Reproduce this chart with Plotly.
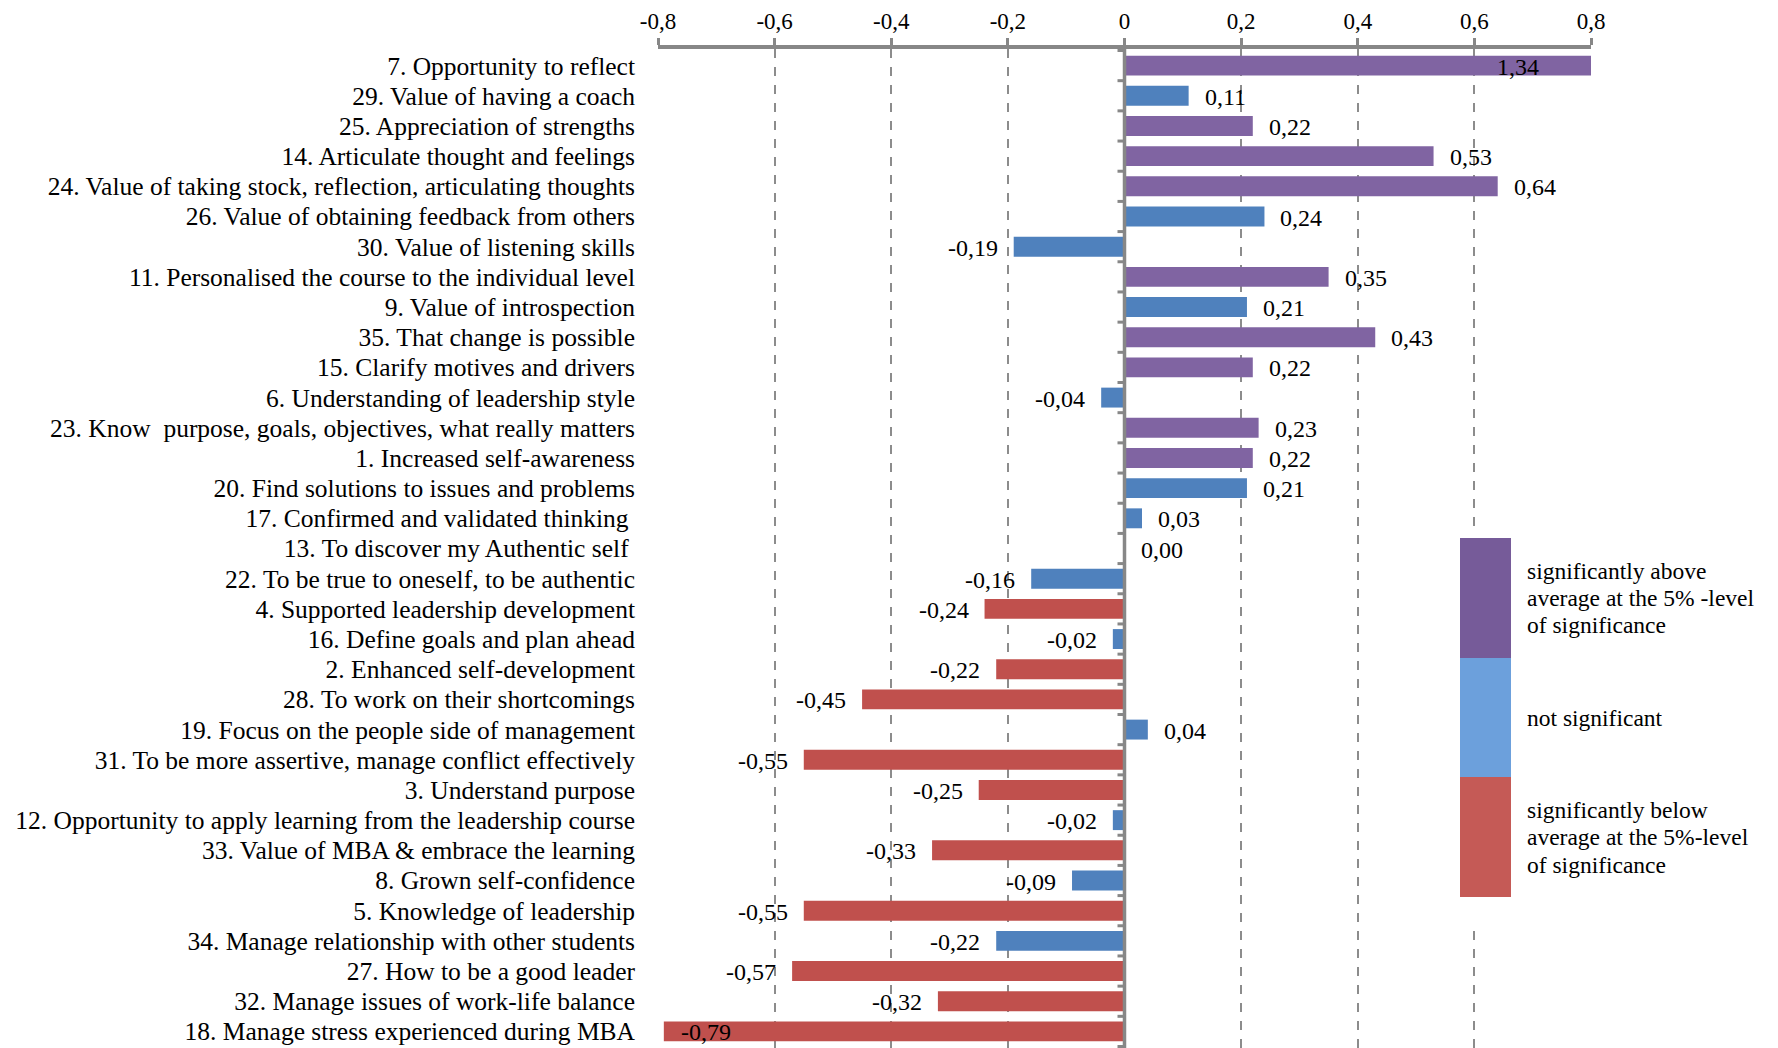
import plotly.graph_objects as go

# Items, listed top to bottom
items = [
    "7. Opportunity to reflect",
    "29. Value of having a coach",
    "25. Appreciation of strengths",
    "14. Articulate thought and feelings",
    "24. Value of taking stock, reflection, articulating thoughts",
    "26. Value of obtaining feedback from others",
    "30. Value of listening skills",
    "11. Personalised the course to the individual level",
    "9. Value of introspection",
    "35. That change is possible",
    "15. Clarify motives and drivers",
    "6. Understanding of leadership style",
    "23. Know  purpose, goals, objectives, what really matters",
    "1. Increased self-awareness",
    "20. Find solutions to issues and problems",
    "17. Confirmed and validated thinking ",
    "13. To discover my Authentic self ",
    "22. To be true to oneself, to be authentic",
    "4. Supported leadership development",
    "16. Define goals and plan ahead",
    "2. Enhanced self-development",
    "28. To work on their shortcomings",
    "19. Focus on the people side of management",
    "31. To be more assertive, manage conflict effectively",
    "3. Understand purpose",
    "12. Opportunity to apply learning from the leadership course",
    "33. Value of MBA & embrace the learning",
    "8. Grown self-confidence",
    "5. Knowledge of leadership",
    "34. Manage relationship with other students",
    "27. How to be a good leader",
    "32. Manage issues of work-life balance",
    "18. Manage stress experienced during MBA",
]

scores = [
    1.34, 0.11, 0.22, 0.53, 0.64, 0.24, -0.19, 0.35, 0.21, 0.43, 0.22,
    -0.04, 0.23, 0.22, 0.21, 0.03, 0.00, -0.16, -0.24, -0.02, -0.22,
    -0.45, 0.04, -0.55, -0.25, -0.02, -0.33, -0.09, -0.55, -0.22,
    -0.57, -0.32, -0.79,
]

# "above" / "ns" / "below" average at the 5% level
significance = [
    "above", "ns", "above", "above", "above", "ns", "ns", "above", "ns",
    "above", "above", "ns", "above", "above", "ns", "ns", "ns", "ns",
    "below", "ns", "below", "below", "ns", "below", "below", "ns",
    "below", "ns", "below", "ns", "below", "below", "below",
]

tick_vals = [-0.8, -0.6, -0.4, -0.2, 0.0, 0.2, 0.4, 0.6, 0.8]
tick_text = ["-0,8", "-0,6", "-0,4", "-0,2", "0", "0,2", "0,4", "0,6", "0,8"]

legend_keys = ["above", "ns", "below"]
legend_lines = [
    ["significantly above", "average at the 5% -level", "of significance"],
    ["not significant"],
    ["significantly below", "average at the 5%-level", "of significance"],
]

bar_colors = {"above": "#8064A2", "ns": "#4F81BD", "below": "#C0504D"}
key_colors = {"above": "#765B99", "ns": "#6CA0DC", "below": "#C55A56"}

W, H = 1778, 1048
L, R, T, B = 658, 187, 49, 0
XMIN, XMAX = -0.8, 0.8
SERIF = "Liberation Serif, Times New Roman, serif"
AXIS_GREY = "#878787"


def px_x(px):
    return (px - L) / (W - L - R)


def px_y(py):
    return (H - B - py) / (H - T - B)


fig = go.Figure()
fig.add_trace(go.Bar(
    x=scores,
    y=items,
    orientation="h",
    width=0.66,
    marker=dict(color=[bar_colors[s] for s in significance], line=dict(width=0)),
    hoverinfo="x+y",
    cliponaxis=True,
))


def fmt(v):
    return f"{v:.2f}".replace(".", ",")


annotations = []
for name, v in zip(items, scores):
    if v > XMAX:
        ax, anchor, shift = XMAX, "right", -50
    elif v < XMIN + 0.1:
        ax, anchor, shift = v, "left", 15
    elif v >= 0:
        ax, anchor, shift = v, "left", 14
    else:
        ax, anchor, shift = v, "right", -14
    annotations.append(dict(
        x=ax, y=name, xref="x", yref="y", text=fmt(v), showarrow=False,
        xanchor=anchor, yanchor="middle", xshift=shift, yshift=-1,
        font=dict(family=SERIF, size=24, color="#000000"),
    ))

shapes = []
# blank panel behind the key, hiding the grid there
shapes.append(dict(
    type="rect", xref="paper", yref="paper",
    x0=px_x(1449), x1=px_x(1778), y0=px_y(925), y1=px_y(526),
    fillcolor="#FFFFFF", line=dict(width=0), layer="above",
))
# colour key blocks, each with its caption lines
key_bounds = [(538, 658), (658, 777), (777, 897)]
LINE_STEP = 27.5
for key, (top, bot), lines in zip(legend_keys, key_bounds, legend_lines):
    shapes.append(dict(
        type="rect", xref="paper", yref="paper",
        x0=px_x(1460), x1=px_x(1511), y0=px_y(bot), y1=px_y(top),
        fillcolor=key_colors[key], line=dict(width=0), layer="above",
    ))
    mid = (top + bot) / 2
    first = mid - LINE_STEP * (len(lines) - 1) / 2
    for k, line in enumerate(lines):
        annotations.append(dict(
            x=px_x(1525), y=px_y(first + k * LINE_STEP), xref="paper", yref="paper",
            text=line, showarrow=False, xanchor="left", yanchor="middle",
            align="left", font=dict(family=SERIF, size=23.5, color="#000000"),
        ))

# vertical category axis crossing at zero, with its small tick marks
shapes.append(dict(
    type="line", xref="x", yref="paper", x0=0, x1=0, y0=0, y1=1,
    line=dict(color=AXIS_GREY, width=3.5), layer="above",
))
for i in range(len(items) + 1):
    shapes.append(dict(
        type="line", xref="x", yref="y", xsizemode="pixel", xanchor=0,
        x0=-7, x1=0, y0=i - 0.5, y1=i - 0.5,
        line=dict(color=AXIS_GREY, width=3), layer="above",
    ))

fig.update_layout(
    width=W, height=H,
    margin=dict(l=L, r=R, t=T, b=B, pad=0),
    paper_bgcolor="#FFFFFF", plot_bgcolor="#FFFFFF",
    showlegend=False,
    bargap=0.34,
    shapes=shapes,
    annotations=annotations,
    xaxis=dict(
        side="top", range=[XMIN, XMAX],
        tickvals=tick_vals, ticktext=tick_text,
        showgrid=True, gridcolor="#8C8C8C", gridwidth=1.5, griddash="dash",
        zeroline=False,
        showline=True, linecolor=AXIS_GREY, linewidth=4,
        ticks="outside", ticklen=7, tickwidth=3, tickcolor=AXIS_GREY,
        tickfont=dict(family=SERIF, size=23, color="#000000"),
        fixedrange=True,
    ),
    yaxis=dict(
        type="category", autorange="reversed",
        tickmode="array", tickvals=items, ticktext=items,
        showgrid=False, zeroline=False, showline=False, ticks="",
        ticklabelstandoff=22,
        tickfont=dict(family=SERIF, size=25.5, color="#000000"),
        fixedrange=True,
    ),
)

fig.write_html("out.html")
